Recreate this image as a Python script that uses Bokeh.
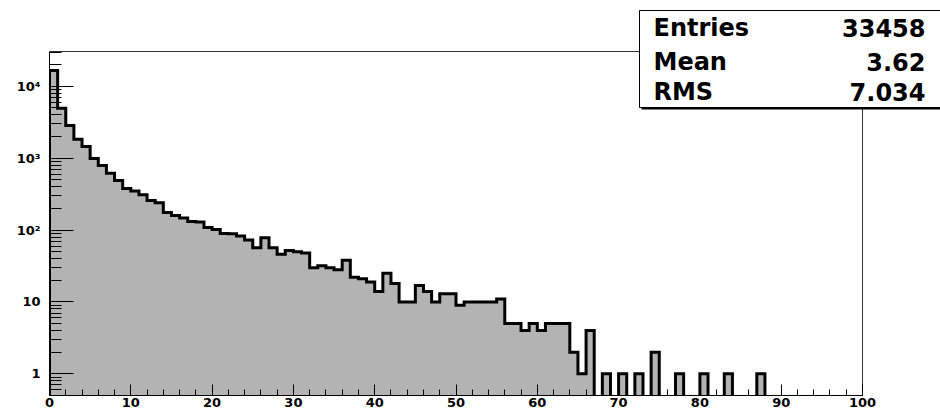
import numpy as np
from bokeh.plotting import figure
from bokeh.models import FixedTicker, BoxAnnotation, Label, Range1d
from bokeh.embed import file_html
from bokeh.resources import INLINE

# ---- data -------------------------------------------------------------
bin_edges = list(range(0, 101))
counts = [16600, 4960, 2840, 1840, 1450, 990, 790, 620, 490, 380,
          350, 310, 258, 240, 175, 160, 147, 132, 130, 109,
          102, 90, 89, 83, 73, 57, 78, 57, 46, 52,
          50, 48, 30, 32, 30, 28, 38, 22, 21, 19,
          14, 25, 18, 10, 10, 17, 14, 10, 13, 13,
          9, 10, 10, 10, 10, 11, 5, 5, 4, 5,
          4, 5, 5, 5, 2, 1, 4, 0, 1, 0,
          1, 0, 1, 0, 2, 0, 0, 1, 0, 0,
          1, 0, 0, 1, 0, 0, 0, 1, 0, 0,
          0, 0, 0, 0, 0, 0, 0, 0, 0, 0]
x_major_ticks = [0, 10, 20, 30, 40, 50, 60, 70, 80, 90, 100]
x_minor_ticks = list(range(0, 101, 2))
y_major_ticks = [1, 10, 100, 1000, 10000]
y_tick_labels = ["1", "10", "10\u00b2", "10\u00b3", "10\u2074"]
stat_names = ["Entries", "Mean", "RMS"]
stat_values = ["33458", "3.62", "7.034"]

# ---- layout (pixels) ----------------------------------------------------
W, H = 940, 413
FRAME_L, FRAME_R, FRAME_T, FRAME_B = 49, 862, 51, 395   # histogram pad box
FONT = "DejaVu Sans"
x_lo, x_hi = 0.0, 100.0
y_lo, y_hi = 0.5, 30500.0
floor = 1e-3

# Bokeh's frame spans the whole canvas right/top of the axes so that the
# statistics box (which sits across the pad border) is not clipped.
x_end = x_lo + (x_hi - x_lo) * (W - FRAME_L) / (FRAME_R - FRAME_L)
ppd = (FRAME_B - FRAME_T) / np.log10(y_hi / y_lo)
y_end = y_lo * 10 ** ((FRAME_B - 0) / ppd)

p = figure(width=W, height=H, y_axis_type="log",
           x_range=Range1d(x_lo, x_end), y_range=Range1d(y_lo, y_end),
           output_backend="svg", toolbar_location=None,
           min_border_left=FRAME_L, min_border_right=0,
           min_border_top=0, min_border_bottom=H - FRAME_B)
p.grid.visible = False
p.background_fill_color = "white"
p.border_fill_color = "white"
p.outline_line_color = None

edges = np.array(bin_edges, dtype=float)
c = np.array(counts, dtype=float)
cc = np.where(c > 0, c, floor)
xs = np.repeat(edges, 2)
ys = np.concatenate([[floor], np.repeat(cc, 2), [floor]])

# pad border (top and right edges)
p.segment(x0=[x_lo, x_hi], y0=[y_hi, y_lo], x1=[x_hi, x_hi], y1=[y_hi, y_hi],
          line_color="#333333", line_width=1)

# filled histogram + outline
p.patch(xs, ys, fill_color="#b3b3b3", line_color=None)
p.line(xs, ys, line_color="black", line_width=3, line_join="miter")

# ---- axes -------------------------------------------------------------
xa = p.xaxis[0]
xa.bounds = (x_lo, x_hi)
xa.ticker = FixedTicker(ticks=x_major_ticks, minor_ticks=x_minor_ticks)
xa.major_tick_in = 11
xa.major_tick_out = 0
xa.minor_tick_in = 6
xa.minor_tick_out = 0
xa.major_label_standoff = 2
xa.major_label_text_font = FONT
xa.major_label_text_font_style = "bold"
xa.major_label_text_font_size = "13px"
xa.major_label_text_color = "black"
xa.axis_line_color = "black"

y_minor = [m * 10.0 ** e for e in range(-1, 5) for m in range(2, 10)
           if y_lo <= m * 10.0 ** e <= y_hi]
ya = p.yaxis[0]
ya.bounds = (y_lo, y_hi)
ya.ticker = FixedTicker(ticks=y_major_ticks, minor_ticks=y_minor)
ya.major_label_overrides = {t: s for t, s in zip(y_major_ticks, y_tick_labels)}
ya.major_tick_in = 24
ya.major_tick_out = 0
ya.minor_tick_in = 12
ya.minor_tick_out = 0
ya.major_label_standoff = 9
ya.major_label_text_font = FONT
ya.major_label_text_font_style = "bold"
ya.major_label_text_font_size = "13px"
ya.major_label_text_color = "black"
ya.axis_line_color = "black"

# ---- stats box (screen units relative to frame: x from left, y from bottom)
BOX_L, BOX_T, BOX_B = 639, 10, 107
def sx(px):
    return px - FRAME_L
def sy(py):
    return FRAME_B - py

shadow = BoxAnnotation(left=sx(BOX_L + 2), right=sx(W + 20), top=sy(BOX_T + 2),
                       bottom=sy(BOX_B + 2),
                       left_units="screen", right_units="screen",
                       top_units="screen", bottom_units="screen",
                       fill_color="black", fill_alpha=1.0, line_alpha=0)
box = BoxAnnotation(left=sx(BOX_L), right=sx(W + 10), top=sy(BOX_T), bottom=sy(BOX_B),
                    left_units="screen", right_units="screen",
                    top_units="screen", bottom_units="screen",
                    fill_color="white", fill_alpha=1.0,
                    line_color="black", line_alpha=1.0, line_width=1)
p.add_layout(shadow)
p.add_layout(box)

NAME_X, VAL_X = 653, 925
baselines = [36, 70, 100]
BASE_FIX = 9   # Label alphabetic baseline offset observed in rendering
for name, val, yb in zip(stat_names, stat_values, baselines):
    p.add_layout(Label(x=sx(NAME_X), y=sy(yb) + BASE_FIX, x_units="screen", y_units="screen",
                       text=name, text_font=FONT, text_font_style="bold",
                       text_font_size="24px", text_align="left",
                       text_baseline="alphabetic", text_color="black"))
    p.add_layout(Label(x=sx(VAL_X), y=sy(yb) + BASE_FIX, x_units="screen", y_units="screen",
                       text=val, text_font=FONT, text_font_style="bold",
                       text_font_size="24px", text_align="right",
                       text_baseline="alphabetic", text_color="black"))

open("out.html", "w").write(file_html(p, INLINE))
